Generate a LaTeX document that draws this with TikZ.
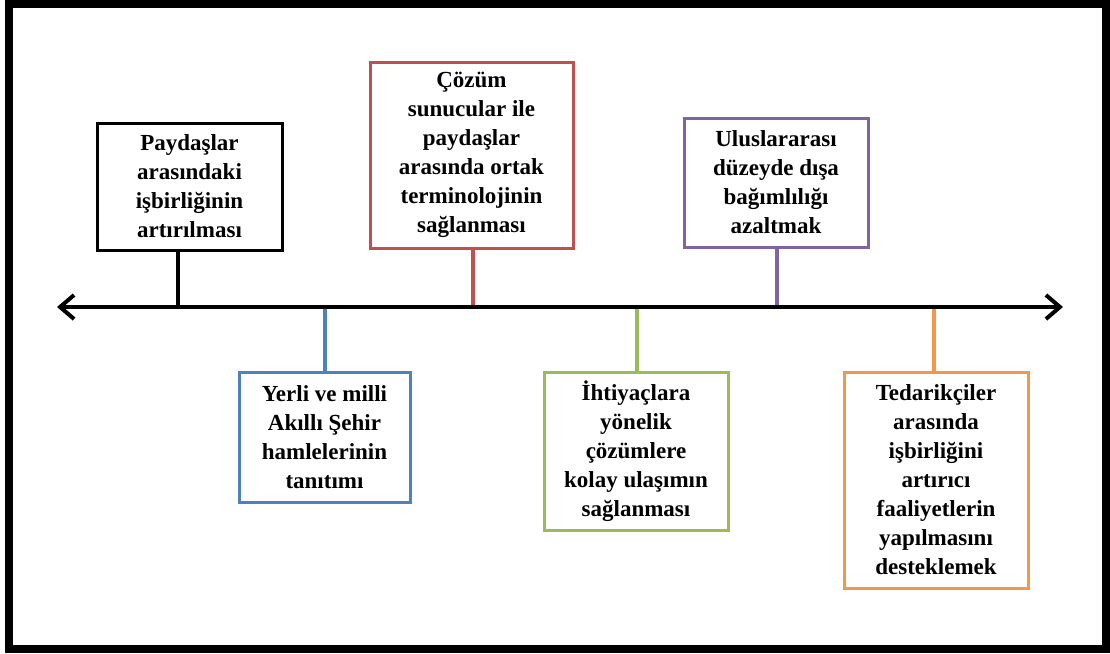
\documentclass[tikz,border=0pt]{standalone}
\usepackage{fontspec}
\setmainfont{Liberation Serif}
\usetikzlibrary{arrows.meta}
\definecolor{mred}{HTML}{C0504D}
\definecolor{mblue}{HTML}{4F81BD}
\definecolor{mgreen}{HTML}{9BBB59}
\definecolor{mpurple}{HTML}{8064A2}
\definecolor{morange}{HTML}{F79646}
\begin{document}
\begin{tikzpicture}[x=1pt,y=-1pt,
  milestone/.style={draw, line width=3pt, fill=white, align=center,
    inner sep=0pt, font=\fontsize{23}{29}\selectfont\bfseries},
  stem/.style={line width=3.5pt},
  axisline/.style={line width=4pt, black,
    {Straight Barb[length=14pt,width=24pt,line width=4pt]}-{Straight Barb[length=14pt,width=24pt,line width=4pt]}}]
\useasboundingbox (0,0) rectangle (1110,653);
% outer frame
\draw[line width=8pt] (9,4) rectangle (1106,648.5);

% time axis end points and attachment points
\coordinate (L) at (57,307);
\coordinate (R) at (1063,307);
\coordinate (a1) at (178,307);
\coordinate (a2) at (473,307);
\coordinate (a3) at (777,307);
\coordinate (a4) at (325,307);
\coordinate (a5) at (637,307);
\coordinate (a6) at (934,307);

% milestones above the axis
\node[milestone, draw=black, minimum width=185pt, minimum height=127pt] (b1) at (189.5,186.5)
  {Paydaşlar\\arasındaki\\işbirliğinin\\artırılması};
\node[milestone, draw=mred, minimum width=203pt, minimum height=186pt] (b2) at (471.5,155)
  {Çözüm\\sunucular ile\\paydaşlar\\arasında ortak\\terminolojinin\\sağlanması};
\node[milestone, draw=mpurple, minimum width=184pt, minimum height=129pt] (b3) at (776,182.5)
  {Uluslararası\\düzeyde dışa\\bağımlılığı\\azaltmak};

% milestones below the axis
\node[milestone, draw=mblue, minimum width=171pt, minimum height=130pt] (b4) at (324.5,437)
  {Yerli ve milli\\Akıllı Şehir\\hamlelerinin\\tanıtımı};
\node[milestone, draw=mgreen, minimum width=184pt, minimum height=158pt] (b5) at (636,451)
  {İhtiyaçlara\\yönelik\\çözümlere\\kolay ulaşımın\\sağlanması};
\node[milestone, draw=morange, minimum width=184pt, minimum height=216pt] (b6) at (936,480)
  {Tedarikçiler\\arasında\\işbirliğini\\artırıcı\\faaliyetlerin\\yapılmasını\\desteklemek};

% stems joining the boxes to the axis
\draw[stem, black]   (a1 |- b1.south) -- (a1);
\draw[stem, mred]    (a2 |- b2.south) -- (a2);
\draw[stem, mpurple] (a3 |- b3.south) -- (a3);
\draw[stem, mblue]   (a4 |- b4.north) -- (a4);
\draw[stem, mgreen]  (a5 |- b5.north) -- (a5);
\draw[stem, morange] (a6 |- b6.north) -- (a6);

% the axis
\draw[axisline] (L) -- (R);
\end{tikzpicture}
\end{document}
